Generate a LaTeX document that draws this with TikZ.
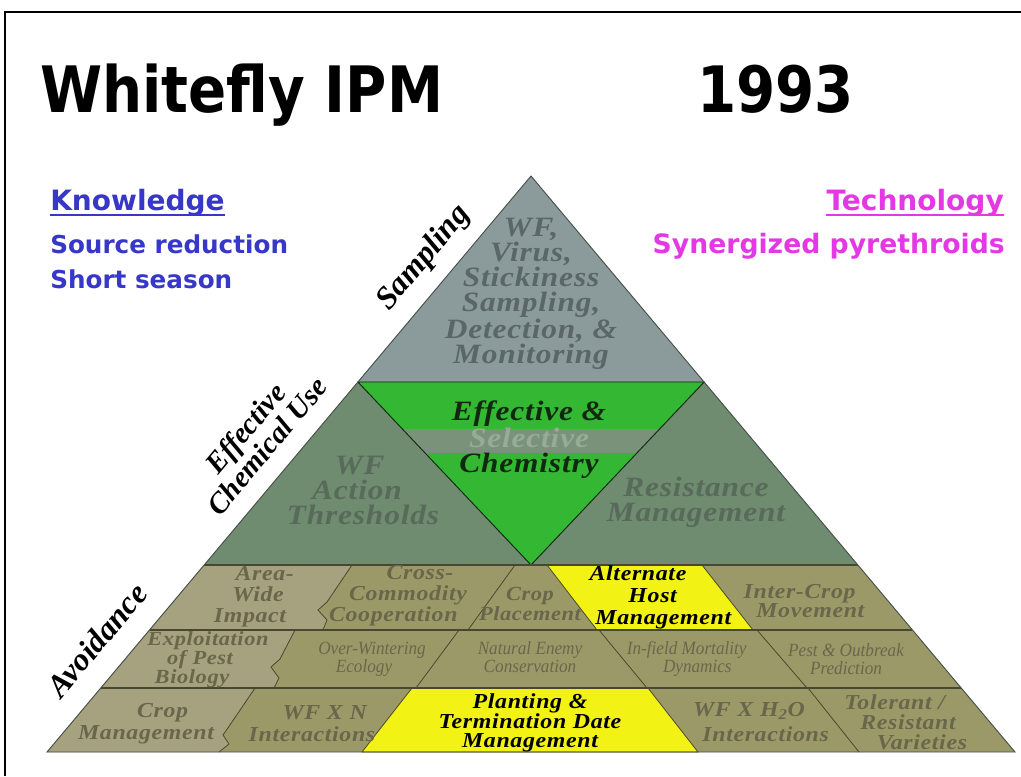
\documentclass[tikz,border=0pt]{standalone}
\usepackage{fontspec}
\setmainfont{Liberation Serif}
\newfontfamily\headfont[FakeStretch=0.88]{DejaVu Sans}
\newfontfamily\sidefont{DejaVu Sans}
\newfontfamily\cellfont[FakeStretch=1.12,LetterSpace=3]{Liberation Serif}
\newfontfamily\thinfont[FakeStretch=0.92]{Liberation Serif}
\usepackage{xcolor}
\usepackage{tikz}
\usetikzlibrary{calc}

\definecolor{topgrey}{RGB}{139,155,156}
\definecolor{bandgreen}{RGB}{111,139,112}
\definecolor{cellolive}{RGB}{156,153,104}
\definecolor{olivelight}{RGB}{166,161,126}
\definecolor{hiyellow}{RGB}{242,242,20}
\definecolor{chemgreen}{RGB}{52,184,52}
\definecolor{stripegrey}{RGB}{122,146,122}
\definecolor{stripetext}{RGB}{152,170,152}
\definecolor{chemdark}{RGB}{15,40,15}
\definecolor{toptext}{RGB}{90,102,104}
\definecolor{bandtext}{RGB}{88,106,90}
\definecolor{olivetext}{RGB}{105,103,75}
\definecolor{knowblue}{RGB}{55,55,200}
\definecolor{techpink}{RGB}{228,56,228}
\definecolor{edgeline}{RGB}{70,80,72}
\definecolor{rulecol}{RGB}{72,72,48}

\begin{document}
\begin{tikzpicture}[
    x=0.75pt, y=-0.75pt,
    % Fills and rules
    outline/.style={draw=edgeline, line width=0.7pt},
    rowrule/.style={draw=rulecol, line width=1.1pt},
    divider/.style={draw=rulecol, line width=0.6pt},
    hicell/.style={fill=hiyellow, draw=rulecol, line width=0.6pt},
    % Text styles
    headlbl/.style={font=\headfont\bfseries\fontsize{48}{48}\selectfont, anchor=base west, inner sep=0pt},
    sidehead/.style={font=\sidefont\bfseries\fontsize{21}{21}\selectfont, anchor=base west, inner sep=0pt},
    sidetext/.style={font=\sidefont\bfseries\fontsize{18.5}{18.5}\selectfont, anchor=base west, inner sep=0pt},
    edgelbl/.style={font=\bfseries\itshape\fontsize{#1}{19}\selectfont, rotate=50, align=center, inner sep=0pt},
    edgelbl/.default=24,
    toplbl/.style={font=\cellfont\bfseries\itshape\fontsize{21}{18.75}\selectfont, text=toptext, align=center, inner sep=0pt},
    bandlbl/.style={font=\cellfont\bfseries\itshape\fontsize{21}{18.75}\selectfont, text=bandtext, align=center, inner sep=0pt},
    chemlbl/.style={font=\cellfont\bfseries\itshape\fontsize{21}{18.75}\selectfont, text=chemdark, align=center, inner sep=0pt},
    celllbl/.style={font=\cellfont\bfseries\itshape\fontsize{16}{#1}\selectfont, text=olivetext, align=center, inner sep=0pt},
    celllbl/.default=15.75,
    thinlbl/.style={font=\thinfont\itshape\fontsize{14}{13.5}\selectfont, text=olivetext, align=center, inner sep=0pt},
    hilbl/.style={font=\cellfont\bfseries\itshape\fontsize{16}{#1}\selectfont, text=black, align=center, inner sep=0pt},
    hilbl/.default=14.25
]
    % --- Page and frame ---
    \fill[white] (0,0) rectangle (1021,776);
    \useasboundingbox (0,0) rectangle (1021,776);
    \draw[line width=1.5pt] (5,776) -- (5,12) -- (1021,12);

    % --- Pyramid levels ---
    \coordinate (apex) at (531,176);
    \coordinate (bl) at (47,752);
    \coordinate (br) at (1015,752);
    \foreach \lev/\t in {1/0.3576, 2/0.6753, 3/0.7882, 4/0.8889} {
        \coordinate (l\lev) at ($(apex)!\t!(bl)$);
        \coordinate (r\lev) at ($(apex)!\t!(br)$);
    }
    \coordinate (chemtip) at ($(l2)!0.5!(r2)$);

    \fill[topgrey] (apex) -- (r1) -- (l1) -- cycle;
    \fill[bandgreen] (l1) -- (r1) -- (r2) -- (l2) -- cycle;
    \fill[cellolive] (l2) -- (r2) -- (br) -- (bl) -- cycle;

    % lighter cells on the left
    \fill[olivelight] (l2) -- (352,565) -- (327,602) -- (318,610) -- (327,620) -- (323,630) -- (l3) -- cycle;
    \fill[olivelight] (l3) -- (295,630) -- (280,659) -- (271,667) -- (279,678) -- (274,688) -- (l4) -- cycle;
    \fill[olivelight] (l4) -- (255,688) -- (232,722) -- (223,735) -- (229,744) -- (219,752) -- (bl) -- cycle;

    % highlighted cells
    \filldraw[hicell] (547,565) -- (702,565) -- (753,630) -- (597,630) -- cycle;
    \filldraw[hicell] (412,688) -- (648,688) -- (698,752) -- (362,752) -- cycle;

    % chemistry wedge
    \fill[chemgreen] (l1) -- (r1) -- (chemtip) -- cycle;
    \begin{scope}
        \clip (l1) -- (r1) -- (chemtip) -- cycle;
        \fill[stripegrey] (300,429) rectangle (760,453);
    \end{scope}
    \draw[draw=chemdark, line width=0.7pt] (l1) -- (r1) -- (chemtip) -- cycle;

    % rules between cells
    \draw[divider] (352,565) -- (327,602) -- (318,610) -- (327,620) -- (323,630);
    \draw[divider] (515,565) -- (468,630);
    \draw[divider] (295,630) -- (280,659) -- (271,667) -- (279,678) -- (274,688);
    \draw[divider] (459,630) -- (416,688);
    \draw[divider] (599,630) -- (647,688);
    \draw[divider] (757,630) -- (807,688);
    \draw[divider] (255,688) -- (232,722) -- (223,735) -- (229,744) -- (219,752);
    \draw[divider] (808,688) -- (859,752);
    \draw[rowrule] (l2) -- (r2);
    \draw[rowrule] (l3) -- (r3);
    \draw[rowrule] (l4) -- (r4);
    \draw[outline] (apex) -- (br) -- (bl) -- cycle;

    % --- Titles ---
    \node[headlbl] (title) at (40,112) {Whitefly IPM};
    \node[headlbl] (year) at (697,112) {1993};

    \node[sidehead, text=knowblue] (know) at (50,210) {Knowledge};
    \node[sidetext, text=knowblue] (srcred) at (50,253) {Source reduction};
    \node[sidetext, text=knowblue] (shortseas) at (50,288) {Short season};
    \node[sidehead, text=techpink, anchor=base east] (tech) at (1004,210) {Technology};
    \node[sidetext, text=techpink, anchor=base east, font=\sidefont\bfseries\fontsize{20}{20}\selectfont] (synpyr) at (1005,253) {Synergized pyrethroids};
    \draw[knowblue, line width=1.4pt] ([yshift=-4pt]know.base west) -- ([yshift=-4pt]know.base east);
    \draw[techpink, line width=1.4pt] ([yshift=-4pt]tech.base west) -- ([yshift=-4pt]tech.base east);

    % --- Side labels ---
    \node[edgelbl] (samp) at (424,258) {Sampling};
    \node[edgelbl=22] (chemuse) at (256,437) {Effective\\Chemical Use};
    \node[edgelbl] (avoid) at (97,640) {Avoidance};

    % --- Upper levels ---
    \node[toplbl] (monitor) at (531,294) {WF,\\Virus,\\Stickiness\\Sampling,\\Detection, \&\\Monitoring};
    \node[bandlbl] (thresh) at (357,490) {\hspace*{4pt}WF\\Action\hspace*{10pt}\\\hspace*{9pt}Thresholds};
    \node[bandlbl] (resist) at (696,502) {Resistance\\Management};
    \node[chemlbl] (chem) at (529,440) {Effective \&\\\textcolor{stripetext}{Selective}\\Chemistry};

    % --- Avoidance cells ---
    \node[celllbl] (areawide) at (258,597) {\hspace*{10pt}Area-\\Wide\\Impact\hspace*{12pt}};
    \node[celllbl] (crosscom) at (408,596) {\hspace*{18pt}Cross-\\Commodity\\Cooperation\hspace*{22pt}};
    \node[celllbl=13.5, font=\cellfont\bfseries\itshape\fontsize{15}{13.5}\selectfont] (cropplace) at (530,604) {Crop\\Placement};
    \node[hilbl=16.5] (althost) at (650,597) {Alternate\hspace*{18pt}\\\hspace*{4pt}Host\\\hspace*{20pt}Management};
    \node[celllbl=14.25] (intercrop) at (805,601) {Inter-Crop\hspace*{8pt}\\\hspace*{8pt}Movement};

    \node[celllbl=14.25, font=\cellfont\bfseries\itshape\fontsize{15}{14.25}\selectfont] (exploit) at (200,660) {\hspace*{12pt}Exploitation\\of Pest\\Biology\hspace*{12pt}};
    \node[thinlbl] (overwint) at (368,659) {\hspace*{6pt}Over-Wintering\\Ecology\hspace*{6pt}};
    \node[thinlbl] (natenemy) at (530,657) {Natural Enemy\\Conservation};
    \node[thinlbl] (infield) at (692,659) {In-field Mortality\hspace*{8pt}\\\hspace*{8pt}Dynamics};
    \node[thinlbl] (outbreak) at (846,659) {Pest \& Outbreak\\Prediction};

    \node[celllbl=16.5] (cropmgmt) at (154,724) {\hspace*{13pt}Crop\\Management\hspace*{12pt}};
    \node[celllbl=16.5] (wfxn) at (318,724) {\hspace*{10pt}WF X N\\Interactions\hspace*{9pt}};
    \node[hilbl] (planting) at (530,723) {Planting \&\\Termination Date\\Management};
    \node[celllbl=18.75] (wfxh) at (757,722) {WF X H\textsubscript{2}O\hspace*{12pt}\\\hspace*{13pt}Interactions};
    \node[celllbl=15] (tolerant) at (908,722) {Tolerant /\hspace*{20pt}\\Resistant\\\hspace*{21pt}Varieties};
\end{tikzpicture}
\end{document}
